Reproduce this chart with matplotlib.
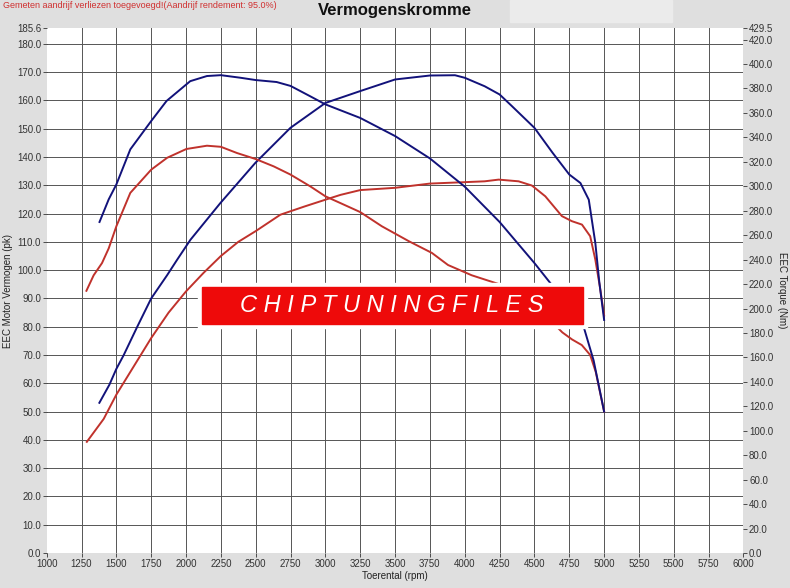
import numpy as np
import matplotlib
matplotlib.use('Agg')
from matplotlib import pyplot as plt
from matplotlib.patches import Rectangle

plt.rcParams['font.family'] = ['Liberation Sans', 'DejaVu Sans']

# Dyno data: power in pk (left axis), torque in Nm (right axis)
rpm_pow_blue = [1378, 1450, 1500, 1552, 1650, 1750, 1864, 1935, 2031, 2246, 2497, 2749, 3000,
                3250, 3500, 3750, 3930, 4000, 4143, 4250, 4338, 4500, 4630, 4750, 4830, 4890,
                4937, 4965, 5000]
pow_blue = [53.1, 59.5, 65.1, 69.9, 80.0, 90.0, 98.2, 103.6, 110.7, 123.7, 137.9, 150.3, 159.1,
            163.3, 167.4, 168.8, 168.9, 168.0, 165.0, 162.1, 158.0, 150.3, 141.5, 133.8, 130.8,
            124.9, 109.6, 96.0, 82.4]

rpm_trq_blue = [1379, 1445, 1500, 1600, 1750, 1860, 2030, 2150, 2250, 2390, 2500, 2650, 2750,
                2890, 3000, 3250, 3500, 3750, 4000, 4250, 4500, 4750, 4850, 4925, 5000]
trq_blue = [270.8, 289.3, 301.5, 330.2, 353.4, 369.8, 386.0, 390.2, 390.9, 388.8, 386.9, 385.3,
            382.1, 373.7, 367.0, 355.9, 341.1, 322.8, 299.7, 270.8, 237.2, 201.3, 186.3, 157.4,
            115.7]

rpm_pow_red = [1288, 1409, 1500, 1625, 1750, 1875, 2000, 2125, 2250, 2375, 2500, 2677, 2850,
               3000, 3108, 3250, 3500, 3750, 4000, 4143, 4243, 4386, 4482, 4578, 4697, 4769,
               4841, 4900, 4937, 4970, 5000]
pow_red = [39.3, 47.4, 56.0, 66.0, 76.0, 85.0, 92.5, 99.0, 105.0, 110.0, 113.8, 119.6, 122.5,
           124.9, 126.6, 128.3, 129.1, 130.6, 131.1, 131.4, 132.0, 131.4, 129.9, 126.1, 119.1,
           117.3, 116.1, 112.0, 103.7, 94.0, 84.0]

rpm_trq_red = [1285, 1337, 1397, 1445, 1500, 1600, 1750, 1864, 2002, 2150, 2250, 2366, 2497,
               2629, 2749, 2892, 3000, 3107, 3250, 3405, 3600, 3764, 3880, 4050, 4250, 4500,
               4630, 4700, 4770, 4840, 4900, 4940, 5000]
trq_red = [214.5, 227.2, 237.2, 249.2, 267.3, 294.6, 313.6, 323.3, 330.5, 333.2, 332.3, 327.2,
           322.4, 316.3, 309.6, 299.9, 291.8, 286.3, 278.9, 267.3, 255.0, 245.5, 235.6, 227.2,
           219.8, 204.8, 188.6, 180.5, 174.7, 170.1, 162.0, 148.1, 115.7]

xticks = list(range(1000, 6001, 250))
pk_ticks = [i * 10.0 for i in range(19)] + [185.6]
nm_ticks = [i * 20.0 for i in range(22)] + [429.5]

blue = '#12127a'
red = '#c0322c'
bg = '#dfdfdf'

fig = plt.figure(figsize=(7.9, 5.88), dpi=100, facecolor=bg)
ax1 = fig.add_axes([0.0591, 0.0595, 0.882, 0.8929])
ax1.set_facecolor('white')
ax2 = ax1.twinx()

ax1.set_xlim(1000, 6000)
ax1.set_ylim(0, 185.6)
ax2.set_ylim(0, 429.5)

ax1.set_xticks(xticks)
ax1.set_xticklabels([str(t) for t in xticks])
ax1.set_yticks(pk_ticks)
ax1.set_yticklabels(['%.1f' % t for t in pk_ticks])
ax2.set_yticks(nm_ticks)
ax2.set_yticklabels(['%.1f' % t for t in nm_ticks])

for a in (ax1, ax2):
    for s in a.spines.values():
        s.set_visible(False)
    a.tick_params(labelsize=7, length=3, width=0.6, colors='#333333', pad=1)

# grid
for t in xticks[1:-1]:
    ax1.axvline(t, color='#555555', lw=0.7, zorder=1)
for t in pk_ticks[1:-1]:
    ax1.axhline(t, color='#555555', lw=0.7, zorder=1)

ax1.plot(rpm_pow_red, pow_red, color=red, lw=1.4, zorder=3)
ax2.plot(rpm_trq_red, trq_red, color=red, lw=1.4, zorder=3)
ax1.plot(rpm_pow_blue, pow_blue, color=blue, lw=1.4, zorder=3)
ax2.plot(rpm_trq_blue, trq_blue, color=blue, lw=1.4, zorder=3)

ax1.set_xlabel('Toerental (rpm)', fontsize=7, labelpad=2, color='#222222')
ax1.set_ylabel('EEC Motor Vermogen (pk)', fontsize=7, labelpad=3, color='#222222')
ax2.set_ylabel('EEC Torque (Nm)', fontsize=7, rotation=270, labelpad=10, color='#222222')

# header
fig.add_artist(Rectangle((510 / 790, 1 - 22 / 588), 162 / 790, 22 / 588,
                         transform=fig.transFigure, color='#ebebeb', zorder=0))
fig.text(0.5, 1 - 10 / 588, 'Vermogenskromme', ha='center', va='center',
         fontsize=12, fontweight='bold', color='#111111')
fig.text(3 / 790, 1 - 5 / 588, 'Gemeten aandrijf verliezen toegevoegd!(Aandrijf rendement: 95.0%)',
         ha='left', va='center', fontsize=6.5, color='#d03030')

# watermark banner
fig.add_artist(Rectangle((198 / 790, 1 - 328 / 588), 389 / 790, 45 / 588,
                         transform=fig.transFigure, color='white', zorder=5))
fig.add_artist(Rectangle((202 / 790, 1 - 324 / 588), 381 / 790, 37 / 588,
                         transform=fig.transFigure, color='#ee0a0a', zorder=6))
fig.text(392 / 790, 1 - 305 / 588, 'C H I P T U N I N G F I L E S', ha='center', va='center',
         fontsize=17, style='italic', color='white', zorder=7)

fig.savefig('out.png', dpi=100, facecolor=bg)
